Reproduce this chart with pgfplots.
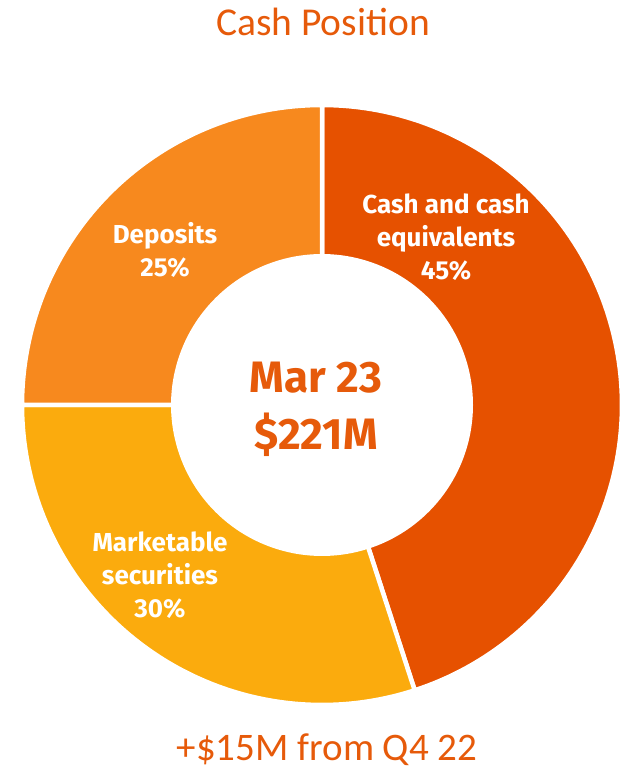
\documentclass[border=0pt]{standalone}
\usepackage{fontspec}
\setmainfont{Carlito}
\newfontfamily\labfont{Fira Sans}
\usepackage{pgfplots}
\usepackage{pgfplotstable}
\pgfplotsset{compat=1.18}
\definecolor{cashc}{HTML}{E65100}
\definecolor{depc}{HTML}{F7891E}
\definecolor{mktc}{HTML}{FBAB0D}
\definecolor{txtc}{HTML}{E65A0A}
\pgfplotstableread{
name share
cash 45
mkt 30
dep 25
}\shares
\pgfplotstablegetelem{0}{share}\of\shares \let\pA\pgfplotsretval
\pgfplotstablegetelem{1}{share}\of\shares \let\pB\pgfplotsretval
\pgfplotstablegetelem{2}{share}\of\shares \let\pC\pgfplotsretval
\pgfmathsetmacro\aA{90}
\pgfmathsetmacro\aB{\aA-3.6*\pA}
\pgfmathsetmacro\aC{\aB-3.6*\pB}
\pgfmathsetmacro\aD{\aC-3.6*\pC}
\def\cx{322}\def\cy{371}\def\ro{300}\def\ri{151}
\begin{document}
\begin{tikzpicture}
\begin{axis}[
  width=629bp, height=776bp, scale only axis,
  xmin=0, xmax=629, ymin=0, ymax=776,
  hide axis, clip=false,
]
\path (axis cs:0,0) rectangle (axis cs:629,776);
\addplot[fill=cashc, draw=white, line width=4.5bp, domain=\aB:\aA, samples=120, variable=\t]
  ({\cx+\ro*cos(t)},{\cy+\ro*sin(t)}) -- (axis cs:\cx,\cy) -- cycle;
\addplot[fill=mktc, draw=white, line width=4.5bp, domain=\aC:\aB, samples=100, variable=\t]
  ({\cx+\ro*cos(t)},{\cy+\ro*sin(t)}) -- (axis cs:\cx,\cy) -- cycle;
\addplot[fill=depc, draw=white, line width=4.5bp, domain=\aD:\aC, samples=80, variable=\t]
  ({\cx+\ro*cos(t)},{\cy+\ro*sin(t)}) -- (axis cs:\cx,\cy) -- cycle;
\addplot[fill=white, draw=none, domain=0:360, samples=180, variable=\t]
  ({\cx+\ri*cos(t)},{\cy+\ri*sin(t)}) -- cycle;
% labels
\node[text=white, align=center, font=\labfont\bfseries\fontsize{26bp}{33bp}\selectfont]
  at (axis cs:446,776-237) {Cash and cash\\equivalents\\45\%};
\node[text=white, align=center, font=\labfont\bfseries\fontsize{26bp}{33bp}\selectfont]
  at (axis cs:165,776-250) {Deposits\\25\%};
\node[text=white, align=center, font=\labfont\bfseries\fontsize{26bp}{33bp}\selectfont]
  at (axis cs:160,776-575) {Marketable\\securities\\30\%};
\node[text=txtc, align=center, font=\labfont\bfseries\fontsize{44bp}{57bp}\selectfont]
  at (axis cs:316,776-409) {Mar 23\\\$221M};
\node[text=txtc, font=\fontsize{39.5bp}{44bp}\selectfont] at (axis cs:323,776-22) {Cash Position};
\node[text=txtc, font=\fontsize{39bp}{44bp}\selectfont] at (axis cs:327,776-750) {+\$15M from Q4 22};
\end{axis}
\end{tikzpicture}
\end{document}
